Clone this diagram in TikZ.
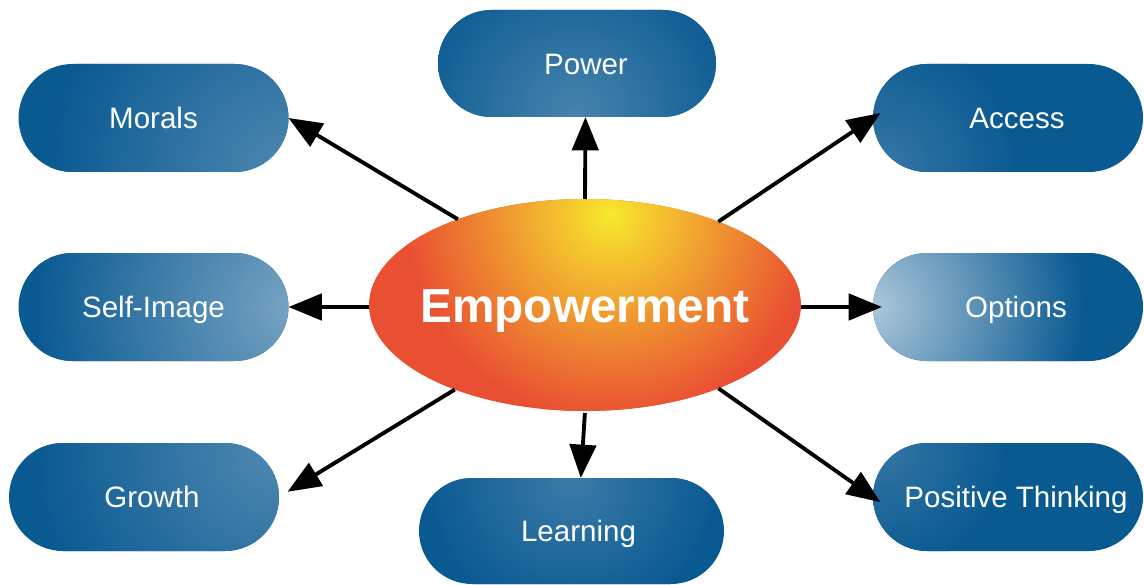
\documentclass[tikz,border=0pt]{standalone}
\usepackage{fontspec}
\setmainfont{Liberation Sans}
\usetikzlibrary{arrows.meta,shapes.geometric,shapes.misc}

\definecolor{pilldark}{HTML}{0A5A92}
\definecolor{hotred}{HTML}{E94F32}
\definecolor{hotorange}{HTML}{EE8A30}
\definecolor{hotgold}{HTML}{F5C82E}
\definecolor{hotyellow}{HTML}{F7E92C}

\pgfdeclareradialshading{corona}{\pgfpointorigin}{color(0bp)=(hotyellow); color(5bp)=(hotgold); color(15bp)=(hotorange); color(25bp)=(hotred); color(50bp)=(hotred)}

\makeatletter
\newcommand{\freshsizes}{\pgf@resetpathsizes}
\makeatother

\tikzset{
  pill/.style={shape=rounded rectangle, fill=pilldark, minimum width=5.4cm, minimum height=2.16cm, inner sep=0pt, outer sep=0pt, text=white, text height=12pt, text depth=0pt, font=\fontsize{16.8}{20}\selectfont},
  glow/.style n args={3}{path picture={\freshsizes \shade [inner color=#3, outer color=pilldark] ([shift={(#1)}]path picture bounding box.center) circle (#2);}},
  link/.style={draw=black, line width=2.2pt, -{Triangle[length=19pt,width=15pt]}},
}

\begin{document}
\begin{tikzpicture}
\useasboundingbox (0,0) rectangle (22.88,11.68);

\node (core) [ellipse, fill=hotred, minimum width=8.64cm, minimum height=4.24cm, inner sep=0pt, outer sep=0pt, path picture={\freshsizes \shade [shading=corona] ([shift={(0.5,1.8)}]path picture bounding box.center) circle (4.1);}] at (11.7,5.58) {};
\node (coretext) [text=white, text height=19.5pt, text depth=0pt, font=\fontsize{27.2}{32}\bfseries] at (core) {Empowerment};

\node (power) [pill, minimum width=5.56cm, minimum height=2.14cm, glow={-0.04,-1.07}{3.4}{white!25!pilldark}] at (11.54,10.41) {\hspace*{0.36cm}Power};
\node (morals) [pill, glow={2.73,-1.14}{4.8}{white!28!pilldark}] at (3.07,9.32) {Morals};
\node (access) [pill, glow={-2.46,-0.94}{2.6}{white!17!pilldark}] at (20.16,9.32) {\hspace*{0.36cm}Access};
\node (selfimage) [pill, glow={2.83,0}{5.2}{white!45!pilldark}] at (3.07,5.54) {Self-Image};
\node (options) [pill, glow={-2.7,0}{4.2}{white!66!pilldark}] at (20.16,5.54) {\hspace*{0.32cm}Options};
\node (growth) [pill, glow={2.62,0.94}{4.8}{white!28!pilldark}] at (2.88,1.74) {\hspace*{0.32cm}Growth};
\node (learning) [pill, minimum width=6.1cm, minimum height=2.12cm, glow={0,1.06}{2.9}{white!20!pilldark}] at (11.43,1.06) {\hspace*{0.28cm}Learning};
\node (positive) [pill, glow={-2.46,0.94}{2.4}{white!16!pilldark}] at (20.16,1.74) {\hspace*{0.32cm}Positive Thinking};

\draw [link] (core.north) -- (power.-81.5);
\draw [link] (core.146) -- (morals.east);
\draw [link, shorten >=-0.18cm] (core.32) -- (access.west);
\draw [link] (core.west |- selfimage.east) -- (selfimage.east);
\draw [link, shorten >=-0.18cm] (core.east |- options.west) -- (options.west);
\draw [link, shorten >=0.2cm] (core.213) -- (growth.east);
\draw [link, shorten <=0.04cm] (core.south) -- (learning.80);
\draw [link, shorten >=-0.18cm] (core.328) -- (positive.west);
\end{tikzpicture}
\end{document}
